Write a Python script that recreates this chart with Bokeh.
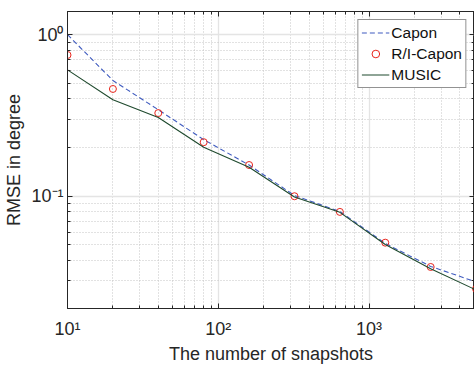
from bokeh.plotting import figure
from bokeh.models import FixedTicker, LogAxis, Legend, LegendItem
from bokeh.embed import file_html
from bokeh.resources import INLINE

# ---- data ----
snapshots = [10, 20, 40, 80, 160, 320, 640, 1280, 2560, 5120]
capon = [1.0, 0.52, 0.343, 0.224, 0.156, 0.101, 0.0805, 0.051, 0.0368, 0.0295]
ri_capon = [0.748, 0.461, 0.327, 0.216, 0.156, 0.100, 0.080, 0.0516, 0.0365, 0.0267]
music = [0.605, 0.395, 0.307, 0.201, 0.151, 0.0988, 0.0795, 0.0503, 0.0356, 0.0263]

x_major = [10, 100, 1000]
x_labels = ["10¹", "10²", "10³"]
y_major = [0.1, 1.0]
y_labels = ["10⁻¹", "10⁰"]
x_minor = [m * d for d in (10, 100, 1000) for m in range(2, 10)]
y_minor = [round(m * d, 4) for d in (0.01, 0.1) for m in range(2, 10)]

FONT = "Liberation Sans"
DARK = "#262626"

p = figure(width=474, height=366, x_axis_type="log", y_axis_type="log",
           x_range=(10, 5000), y_range=(0.0202, 1.39),
           output_backend="svg", toolbar_location=None,
           min_border_left=67, min_border_right=0, min_border_top=11,
           min_border_bottom=58)
p.background_fill_color = "white"
p.border_fill_color = "white"
p.outline_line_color = DARK

xb = p.below[0]
yl = p.left[0]

xt = FixedTicker(ticks=x_major, minor_ticks=x_minor)
yt = FixedTicker(ticks=y_major, minor_ticks=y_minor)


def style_axis(ax, ticker, labels, overrides):
    ax.ticker = ticker
    ax.major_tick_in = 5
    ax.major_tick_out = 0
    ax.minor_tick_in = 3
    ax.minor_tick_out = 0
    ax.axis_line_color = DARK
    ax.major_tick_line_color = DARK
    ax.minor_tick_line_color = DARK
    ax.major_label_text_font = FONT
    ax.major_label_text_color = DARK
    if labels:
        ax.major_label_text_font_size = "18px"
        ax.major_label_overrides = overrides
    else:
        ax.major_label_text_font_size = "0px"
        ax.major_label_overrides = {k: "" for k in overrides}
        ax.major_label_standoff = 0


style_axis(xb, xt, True, dict(zip(x_major, x_labels)))
style_axis(yl, yt, True, dict(zip(y_major, y_labels)))
xb.major_label_standoff = 10
yl.major_label_standoff = 4

top = LogAxis()
style_axis(top, xt, False, dict(zip(x_major, x_labels)))
p.add_layout(top, "above")
right = LogAxis()
style_axis(right, yt, False, dict(zip(y_major, y_labels)))
p.add_layout(right, "right")

xb.axis_label = "The number of snapshots"
yl.axis_label = "RMSE in degree"
for ax in (xb, yl):
    ax.axis_label_text_font = FONT
    ax.axis_label_text_font_size = "18px"
    ax.axis_label_text_font_style = "normal"
    ax.axis_label_text_color = DARK
xb.axis_label_standoff = 2
yl.axis_label_standoff = 4

for g, t in ((p.xgrid[0], xt), (p.ygrid[0], yt)):
    g.ticker = t
    g.grid_line_color = "#e4e4e4"
    g.grid_line_width = 1.3
    g.minor_grid_line_color = "#c4c4c4"
    g.minor_grid_line_dash = "1 2"
    g.minor_grid_line_width = 1

r_capon = p.line(snapshots, capon, line_color="#3f5bbf", line_dash="5 3", line_width=1.1)
r_ri = p.scatter(snapshots, ri_capon, marker="circle", size=7, fill_color=None,
                 line_color="#e8251c", line_width=1)
r_music = p.line(snapshots, music, line_color="#1f4a2e", line_width=1.1)

legend = Legend(items=[LegendItem(label="Capon", renderers=[r_capon]),
                       LegendItem(label="R/I-Capon", renderers=[r_ri]),
                       LegendItem(label="MUSIC", renderers=[r_music])],
                location="top_right", margin=8)
legend.label_text_font = FONT
legend.label_text_font_size = "15.5px"
legend.label_text_color = "#111111"
legend.border_line_color = DARK
legend.border_line_width = 1
legend.background_fill_color = "white"
legend.background_fill_alpha = 1
legend.glyph_width = 28
legend.glyph_height = 19
legend.label_height = 19
legend.spacing = 2
legend.padding = 3
legend.label_standoff = 2
p.add_layout(legend)

open("out.html", "w").write(file_html(p, INLINE))
